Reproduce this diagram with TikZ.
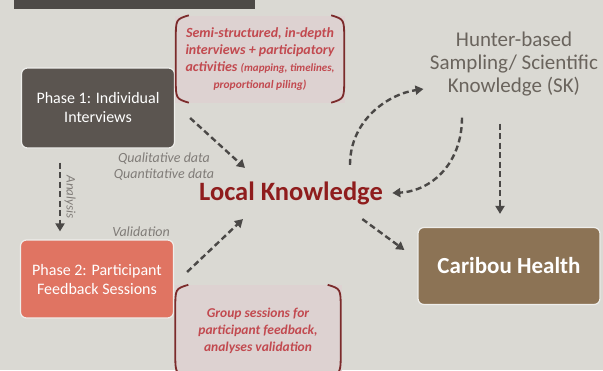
\documentclass[tikz,border=0pt]{standalone}
\usepackage{fontspec}
\setmainfont{Carlito}
\usetikzlibrary{arrows.meta,positioning}
\definecolor{bg}{HTML}{DAD9D3}
\definecolor{banner}{HTML}{4D4A47}
\definecolor{phaseone}{HTML}{5B5550}
\definecolor{phasetwo}{HTML}{E07462}
\definecolor{caribou}{HTML}{8C7355}
\definecolor{notefill}{HTML}{DDD2D1}
\definecolor{notered}{HTML}{C2494F}
\definecolor{bracketred}{HTML}{7B2B2B}
\definecolor{lkred}{HTML}{8F1D1D}
\definecolor{skgray}{HTML}{6A645D}
\definecolor{taggray}{HTML}{807C78}
\definecolor{arrowgray}{HTML}{4A4846}

\begin{document}
\begin{tikzpicture}[x=1pt,y=-1pt,
  phase/.style={rounded corners=6pt,draw=white!55!bg,line width=1.2pt,
    text=white,align=center,font=\fontsize{16}{19}\selectfont},
  note/.style={fill=notefill,text=notered,align=center,
    font=\bfseries\itshape\fontsize{14}{17}\selectfont},
  bracket/.style={draw=bracketred,line width=1.8pt},
  flow/.style={draw=arrowgray,line width=2.4pt,dash pattern=on 6pt off 3.5pt,
    -{Triangle[length=8pt,width=9pt]}},
  tag/.style={text=taggray,align=center,font=\itshape\fontsize{14}{16}\selectfont}]

\useasboundingbox[fill=bg] (0,0) rectangle (603,370);
\fill[banner] (14,0) rectangle (255,9);

\node[phase,fill=phaseone,minimum width=153pt,minimum height=80pt] (p1) at (98,108)
  {Phase 1: Individual\\Interviews};
\node[phase,fill=phasetwo,minimum width=153pt,minimum height=78pt] (p2) at (97,279)
  {Phase 2: Participant\\Feedback Sessions};
\node[phase,fill=caribou,minimum width=182pt,minimum height=77pt,
  font=\bfseries\fontsize{23}{26}\selectfont] (ch) at (509,266) {Caribou Health};

\node[note,minimum width=170pt,minimum height=87pt] (n1) at (260,59)
  {Semi-structured, in-depth\\interviews + participatory\\activities
   {\fontsize{11}{13}\selectfont(mapping, timelines,}\\
   {\fontsize{11.5}{13}\selectfont proportional piling)}};
\node[note,minimum width=167pt,minimum height=92pt,font=\bfseries\itshape\fontsize{13.5}{17}\selectfont] (n2) at (258,331)
  {Group sessions for\\participant feedback,\\analyses validation};
\foreach \n in {n1,n2}{
  \draw[bracket] ([shift={(14,0)}]\n.north west) .. controls ([shift={(1,4)}]\n.north west) .. ([shift={(1,24)}]\n.north west)
    -- ([shift={(1,-24)}]\n.south west) .. controls ([shift={(1,-4)}]\n.south west) .. ([shift={(14,0)}]\n.south west);
  \draw[bracket] ([shift={(-14,0)}]\n.north east) .. controls ([shift={(-1,4)}]\n.north east) .. ([shift={(-1,24)}]\n.north east)
    -- ([shift={(-1,-24)}]\n.south east) .. controls ([shift={(-1,-4)}]\n.south east) .. ([shift={(-14,0)}]\n.south east);
}

\node[text=lkred,font=\bfseries\fontsize{26.5}{30}\selectfont] (lk) at (291,193) {Local Knowledge};
\node[text=skgray,align=center,font=\fontsize{21}{23}\selectfont] (sk) at (514,64)
  {Hunter-based\\Sampling/ Scientific\\Knowledge (SK)};

\node[tag] (qd) at (164,167) {Qualitative data\\Quantitative data};
\node[tag] (val) at (141,232) {Validation};

\draw[flow] ([shift={(15,10)}]p1.east) -- ([shift={(-46,-10)}]lk.north);
\draw[flow] ([shift={(13,-7)}]p2.east) -- ([shift={(-48,11)}]lk.south);
\draw[flow] ([shift={(-38,14)}]p1.south) -- node[sloped,above,tag,font=\itshape\fontsize{13}{14}\selectfont] {Analysis}
  ([shift={(-37,-8)}]p2.north);
\draw[flow] ([shift={(-24,11)}]lk.south east) -- ([shift={(-13,-16)}]ch.west);
\draw[flow] ([shift={(59,-13)}]lk.north) .. controls +(0,-45) and +(-35,5) .. ([shift={(-3,25)}]sk.west);
\draw[flow] ([shift={(-52,18)}]sk.south) .. controls +(0,45) and +(40,-2) .. ([shift={(6,0)}]lk.east);
\draw[flow] ([shift={(-14,24)}]sk.south) -- ([shift={(-9,-13)}]ch.north);
\end{tikzpicture}
\end{document}
